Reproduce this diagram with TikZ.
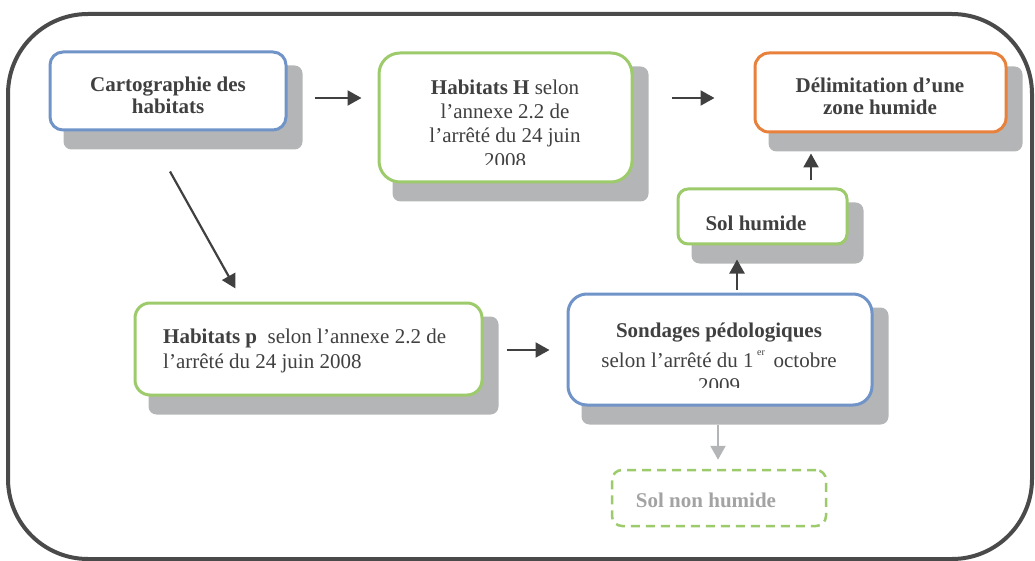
\documentclass[tikz,border=0pt]{standalone}
\usepackage{fontspec}
\setmainfont{Liberation Serif}
\usetikzlibrary{arrows.meta,calc,backgrounds}
\definecolor{txt}{HTML}{404040}
\definecolor{bblue}{HTML}{7094C8}
\definecolor{bgreen}{HTML}{9DCB6C}
\definecolor{borange}{HTML}{E8813C}
\definecolor{shad}{HTML}{B3B5B6}
\definecolor{framec}{HTML}{4A4A4A}
\definecolor{ltgray}{HTML}{A3A3A3}
\newcommand\shadowof[1]{\fill[shad, rounded corners=8pt] ($(#1.north west)+(15,15)$) rectangle ($(#1.south east)+(15,18)$);}
\begin{document}
\begin{tikzpicture}[x=1pt,y=-1pt,
  box/.style={draw=#1, line width=3pt, fill=white, inner sep=0pt},
  arr/.style={draw=txt, line width=2.2pt, -{Triangle[length=14pt,width=15pt]}},
  lbl/.style={text=txt, font=\fontsize{21}{23}\selectfont, inner sep=0pt, anchor=base},
  bl/.style={lbl, font=\fontsize{21}{23}\selectfont\bfseries}
]
\useasboundingbox (0,0) rectangle (1035,561);
\draw[framec, line width=4pt, rounded corners=80pt] (8,14) rectangle (1032,559);

% boxes
\node[box=bblue, rounded corners=13pt, minimum width=236pt, minimum height=78pt] (cart) at (168,91) {};
\node[box=bgreen, rounded corners=21pt, minimum width=253pt, minimum height=129pt] (habH) at (505.5,117.5) {};
\node[box=borange, rounded corners=14pt, minimum width=251pt, minimum height=79pt] (delim) at (880.5,92.5) {};
\node[box=bgreen, rounded corners=10pt, minimum width=169pt, minimum height=55pt] (solh) at (762.5,216.5) {};
\node[box=bgreen, rounded corners=15pt, minimum width=347pt, minimum height=92pt] (habp) at (308.5,349) {};
\node[box=bblue, rounded corners=19pt, minimum width=304pt, minimum height=111pt] (sond) at (720,349.5) {};
\node[draw=bgreen, line width=2.5pt, dash pattern=on 9pt off 6pt, rounded corners=10pt, inner sep=0pt,
      minimum width=214pt, minimum height=56pt] (solnh) at (719,498) {};

\begin{pgfonlayer}{background}
\shadowof{cart}
\shadowof{habH}
\shadowof{delim}
\shadowof{solh}
\shadowof{habp}
\shadowof{sond}
\end{pgfonlayer}

% texts
\node[bl] (cart1) at (168,92) {Cartographie des};
\node[bl] (cart2) at (168,114) {habitats};

\begin{scope}
\clip ($(habH.north west)+(3,3)$) rectangle ($(habH.south east)+(-3,-19)$);
\node[lbl] (habH1) at (505,95) {\textbf{Habitats H} selon};
\node[lbl] (habH2) at (505,119) {l’annexe 2.2 de};
\node[lbl] (habH3) at (505,143) {l’arrêté du 24 juin};
\node[lbl] (habH4) at (505,168) {2008};
\end{scope}

\node[bl] (delim1) at (880,93) {Délimitation d’une};
\node[bl] (delim2) at (880,115) {zone humide};

\node[bl] (solh1) at (756,230) {Sol humide};

\node[lbl, anchor=base west] (habp1) at (163,343) {\textbf{Habitats p}\ \ selon l’annexe 2.2 de};
\node[lbl, anchor=base west] (habp2) at (163,368) {l’arrêté du 24 juin 2008};

\begin{scope}
\clip ($(sond.north west)+(3,3)$) rectangle ($(sond.south east)+(-3,-19)$);
\node[bl] (sond1) at (719,337) {Sondages pédologiques};
\node[lbl] (sond2) at (719,367) {selon l’arrêté du 1\,\raisebox{12pt}{\fontsize{10}{10}\selectfont er}\,\ octobre};
\node[lbl] (sond3) at (719,392) {2009};
\end{scope}

\node[bl, text=ltgray] (solnh1) at (706,507) {Sol non humide};

% arrows
\draw[arr] ($(cart.east)+(27,7)$) -- ($(habH.west |- cart.east)+(-16,7)$);
\draw[arr] ($(habH.east |- delim.west)+(38,5.5)$) -- ($(delim.west)+(-39,5.5)$);
\draw[arr] ($(cart.south)+(2,40)$) -- ($(habp.north)+(-73,-13)$);
\draw[arr] ($(habp.east)+(23,1)$) -- ($(sond.west)+(-17,0.5)$);
\draw[arr] ($(sond.north)+(17,-3)$) -- ($(solh.south)+(-25.5,14)$);
\draw[arr] ($(solh.north)+(48.5,-7)$) -- ($(delim.south)+(-69.5,20)$);
\draw[arr, draw=shad] ($(sond.south)+(-2,18)$) -- ($(solnh.north)+(-1,-9)$);
\end{tikzpicture}
\end{document}
